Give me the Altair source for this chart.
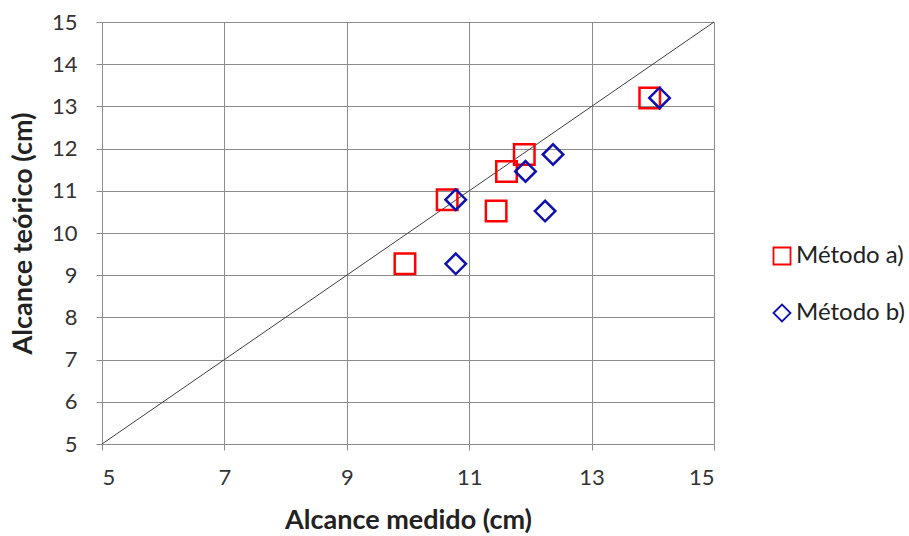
import altair as alt
import pandas as pd

medido_a = [9.95, 10.64, 11.44, 11.61, 11.90, 13.95]
medido_b = [10.78, 10.78, 12.24, 11.92, 12.37, 14.11]
teorico = [9.27, 10.79, 10.52, 11.46, 11.86, 13.20]
series = ["Método a)", "Método b)"]
line_x = [5, 15]

rows = []
for xa, y in zip(medido_a, teorico):
    rows.append({"medido": xa, "teorico": y, "serie": series[0]})
for xb, y in zip(medido_b, teorico):
    rows.append({"medido": xb, "teorico": y, "serie": series[1]})
df = pd.DataFrame(rows)
df_line = pd.DataFrame({"medido": line_x, "teorico": line_x})

FONT = "Lato"
xscale = alt.Scale(domain=[5, 15], nice=False, zero=False)
yscale = alt.Scale(domain=[5, 15], nice=False, zero=False)

xaxis = alt.Axis(values=[5, 7, 9, 11, 13, 15], format="d", title="Alcance medido (cm)",
                 grid=True, gridColor="#8c8c8c", domainColor="#8c8c8c", tickColor="#8c8c8c",
                 tickSize=6, labelFontSize=22, labelFont=FONT, labelColor="#333333",
                 labelPadding=17, titleFontSize=27, titleFont=FONT, titleFontWeight="bold",
                 titleColor="#222222", titlePadding=19)
yaxis = alt.Axis(values=list(range(5, 16)), format="d", title="Alcance teórico (cm)",
                 grid=True, gridColor="#8c8c8c", domainColor="#8c8c8c", tickColor="#8c8c8c",
                 tickSize=6, labelFontSize=22, labelFont=FONT, labelColor="#333333",
                 labelPadding=19, titleFontSize=27, titleFont=FONT, titleFontWeight="bold",
                 titleColor="#222222", titlePadding=14)

legend = alt.Legend(title=None, orient="none", legendX=668, legendY=222,
                    labelFontSize=24, labelFont=FONT, labelColor="#222222",
                    symbolSize=289, symbolStrokeWidth=1.8, rowPadding=31,
                    labelOffset=2, labelLimit=200)

line = alt.Chart(df_line).mark_line(color="#404040", strokeWidth=1).encode(
    x=alt.X("medido:Q", scale=xscale, axis=xaxis),
    y=alt.Y("teorico:Q", scale=yscale, axis=yaxis),
)

points = alt.Chart(df).mark_point(filled=False, strokeWidth=2.5, opacity=1, size=420).encode(
    x=alt.X("medido:Q", scale=xscale),
    y=alt.Y("teorico:Q", scale=yscale),
    shape=alt.Shape("serie:N", scale=alt.Scale(domain=series, range=["square", "diamond"]),
                    legend=legend),
    color=alt.Color("serie:N", scale=alt.Scale(domain=series, range=["#ff0000", "#1010b0"]),
                    legend=legend),
)

chart = alt.layer(line, points).properties(
    width=612, height=422,
    autosize=alt.AutoSizeParams(type="none"),
    padding={"left": 102, "top": 22, "right": 195, "bottom": 92},
    background="white",
).configure_view(stroke=None).configure_legend(padding=0)

chart.save("out.html", embed_options={"renderer": "svg", "actions": False})
